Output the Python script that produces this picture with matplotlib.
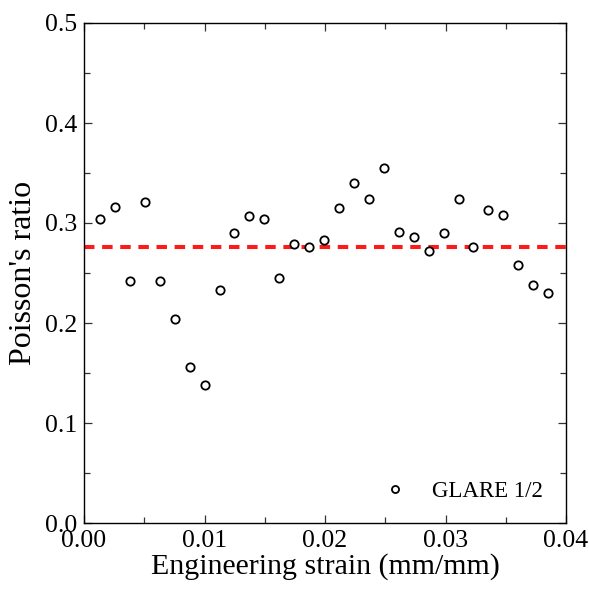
import numpy as np
import matplotlib
matplotlib.use('Agg')
import matplotlib.pyplot as plt
from matplotlib.ticker import MultipleLocator

# data
strain = [0.00133, 0.00256, 0.00382, 0.00506, 0.00629, 0.00753, 0.00877, 0.01001,
          0.01125, 0.01248, 0.01372, 0.01494, 0.01618, 0.01743, 0.01867, 0.01992,
          0.02116, 0.02238, 0.02365, 0.02490, 0.02612, 0.02736, 0.02860, 0.02985,
          0.03109, 0.03231, 0.03355, 0.03477, 0.03602, 0.03726, 0.03851]
poisson = [0.304, 0.316, 0.242, 0.321, 0.242, 0.204, 0.156, 0.138,
           0.233, 0.290, 0.307, 0.304, 0.245, 0.279, 0.276, 0.283,
           0.315, 0.340, 0.324, 0.355, 0.291, 0.286, 0.272, 0.290,
           0.324, 0.276, 0.313, 0.308, 0.258, 0.238, 0.230]
mean_ratio = 0.2765
xlim = [0, 0.04]
ylim = [0, 0.5]

plt.rcParams['font.family'] = ['Liberation Serif', 'DejaVu Serif']
plt.rcParams['mathtext.fontset'] = 'stix'

fig = plt.figure(figsize=(5.89, 5.90), dpi=100)
ax = fig.add_axes([84/589, 67/590, 482/589, 500/590])

ax.plot(xlim, [mean_ratio, mean_ratio], color='#ff1a1a', lw=2.9,
        dashes=(2.6, 1.9), zorder=2)
ax.plot(strain, poisson, 'o', ms=6.0, mfc='white', mec='black', mew=1.3,
        ls='none', label='GLARE 1/2', zorder=3)

ax.set_xlim(xlim)
ax.set_ylim(ylim)
ax.xaxis.set_major_locator(MultipleLocator(0.01))
ax.xaxis.set_minor_locator(MultipleLocator(0.005))
ax.yaxis.set_major_locator(MultipleLocator(0.1))
ax.yaxis.set_minor_locator(MultipleLocator(0.05))
ax.xaxis.set_major_formatter(matplotlib.ticker.FormatStrFormatter('%.2f'))
ax.yaxis.set_major_formatter(matplotlib.ticker.FormatStrFormatter('%.1f'))
ax.tick_params(which='both', direction='in', top=True, right=True,
               labelsize=18.5, color='#333333')
ax.tick_params(which='major', length=6, width=0.9)
ax.tick_params(axis='y', which='major', pad=5)
ax.tick_params(axis='x', which='major', pad=5)
ax.tick_params(which='minor', length=4, width=0.9)
for sp in ax.spines.values():
    sp.set_linewidth(1.0)

ax.set_xlabel('Engineering strain (mm/mm)', fontsize=21.5, labelpad=1)
ax.set_ylabel("Poisson's ratio", fontsize=23, labelpad=5)

ax.legend(loc='lower right', bbox_to_anchor=(0.995, 0.0), frameon=False,
          fontsize=16.5, markerscale=0.85, handletextpad=0.8, handlelength=1.6)

fig.savefig('out.png', dpi=100)
